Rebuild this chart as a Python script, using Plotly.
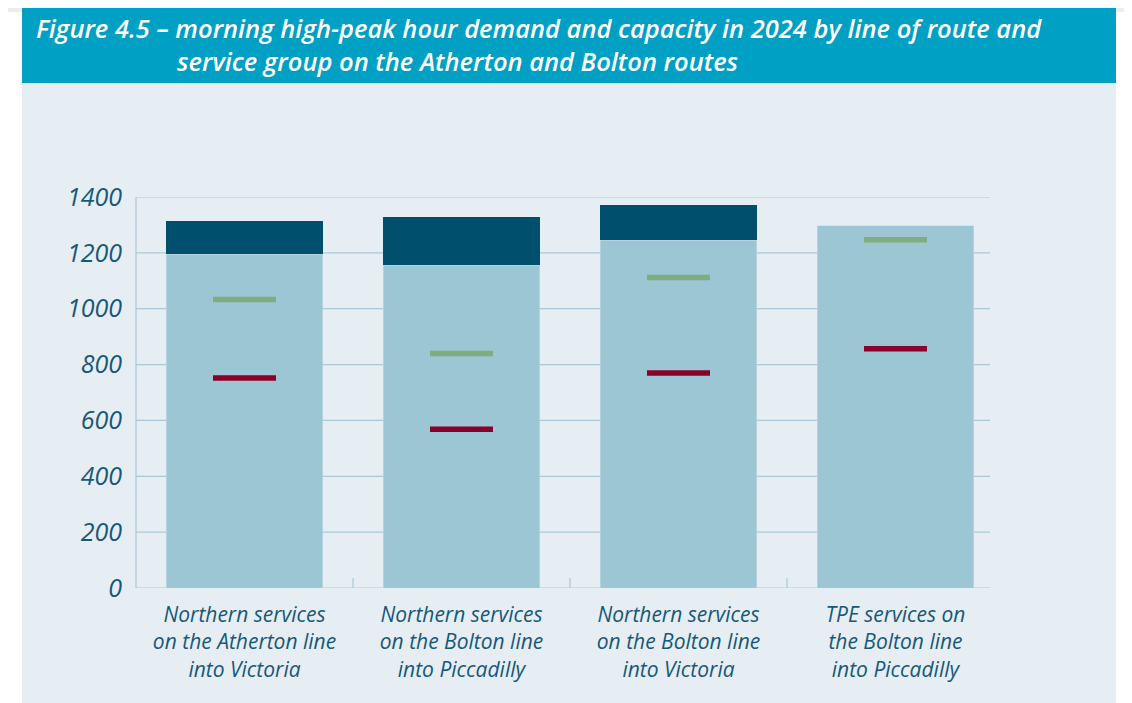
import plotly.graph_objects as go

categories = [
    "Northern services<br>on the Atherton line<br>into Victoria",
    "Northern services<br>on the Bolton line<br>into Piccadilly",
    "Northern services<br>on the Bolton line<br>into Victoria",
    "TPE services on<br>the Bolton line<br>into Piccadilly",
]
seated = [1195, 1155, 1245, 1297]
standing = [120, 175, 125, 0]
green_marks = [1033, 840, 1112, 1247]
red_marks = [752, 568, 770, 857]
y_ticks = [0, 200, 400, 600, 800, 1000, 1200, 1400]

title_1 = "Figure 4.5 – morning high-peak hour demand and capacity in 2024 by line of route and"
title_2 = "service group on the Atherton and Bolton routes"

# the page body has an 8px margin, so the figure is drawn 8px smaller and
# everything below is in window pixels minus that offset
OFF = 8
W, H = 1132 - OFF, 703 - OFF
L, R, T, B = 136 - OFF, 1004 - OFF, 197 - OFF, 588 - OFF
pw, ph = R - L, B - T


def px(x):
    return (x - OFF - L) / pw


def py(y):
    return (B - (y - OFF)) / ph


text_col = "#17587A"
grid_col = "#A9C8D7"

fig = go.Figure()

fig.add_trace(go.Bar(x=categories, y=seated, marker=dict(color="#9DC6D4", line=dict(width=0.6, color="#C4DCE5")),
                     width=0.72, hoverinfo="y", name="seated"))
fig.add_trace(go.Bar(x=categories, y=standing, marker=dict(color="#004F6D", line=dict(width=0)),
                     width=0.72, hoverinfo="y", name="standing"))

fig.add_trace(go.Scatter(x=categories, y=green_marks, mode="markers",
                         marker=dict(symbol="line-ew", size=45, line=dict(width=5.5, color="#7FAD7E")),
                         name="green"))
fig.add_trace(go.Scatter(x=categories, y=red_marks, mode="markers",
                         marker=dict(symbol="line-ew", size=45, line=dict(width=5.5, color="#8B0029")),
                         name="red"))

shapes = [
    # page background panel and title band
    dict(type="rect", xref="paper", yref="paper", x0=px(OFF), x1=px(1132), y0=py(OFF), y1=py(4 + OFF),
         fillcolor="#E9EEF2", line_width=0, layer="below"),
    dict(type="rect", xref="paper", yref="paper", x0=px(22), x1=px(1116), y0=py(83), y1=py(703),
         fillcolor="#E6EEF4", line_width=0, layer="below"),
    dict(type="rect", xref="paper", yref="paper", x0=px(22), x1=px(1116), y0=py(7), y1=py(83),
         fillcolor="#00A0C4", line_width=0, layer="below"),
    # left axis line
    dict(type="line", xref="paper", yref="paper", x0=0, x1=0, y0=0, y1=1,
         line=dict(color=grid_col, width=1.2), layer="below"),
]
for t in y_ticks:
    shapes.append(dict(type="line", xref="paper", yref="y", x0=0, x1=px(990), y0=t, y1=t,
                       line=dict(color=grid_col, width=1.2), layer="below"))
for i in range(1, len(categories)):
    shapes.append(dict(type="line", xref="x", yref="paper", x0=i - 0.5, x1=i - 0.5, y0=0, y1=py(578),
                       line=dict(color=grid_col, width=1.2), layer="below"))

title_font = dict(family="Open Sans", size=25.5, color="white", style="italic", weight=600)
annotations = [
    dict(text=title_1, xref="paper", yref="paper", x=px(34), y=py(28), xanchor="left", yanchor="middle",
         showarrow=False, font=title_font),
    dict(text=title_2, xref="paper", yref="paper", x=px(175), y=py(61), xanchor="left", yanchor="middle",
         showarrow=False, font=title_font),
]

fig.update_layout(
    width=W, height=H,
    barmode="stack",
    showlegend=False,
    paper_bgcolor="white",
    plot_bgcolor="rgba(0,0,0,0)",
    margin=dict(l=L, r=W - R, t=T, b=H - B, pad=0),
    shapes=shapes,
    annotations=annotations,
    xaxis=dict(showgrid=False, showline=False, zeroline=False, ticks="", ticklabelstandoff=12,
               tickfont=dict(family="Open Sans", size=21, color=text_col, style="italic")),
    yaxis=dict(range=[0, 1400], tickvals=y_ticks, showgrid=False, zeroline=False, showline=False,
               ticks="", ticklabelstandoff=13,
               tickfont=dict(family="Open Sans", size=25, color=text_col, style="italic")),
)

fig.write_html("out.html")
